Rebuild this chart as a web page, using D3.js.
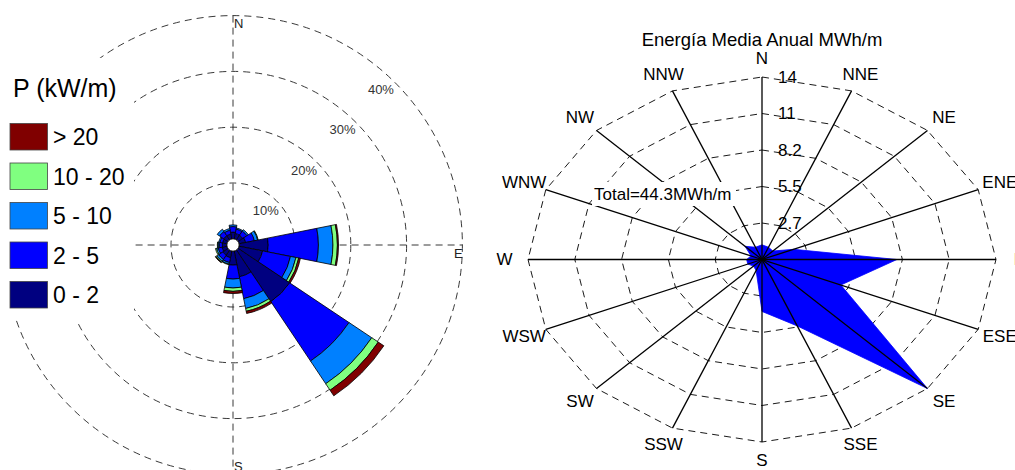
<!DOCTYPE html>
<html><head><meta charset="utf-8">
<script src="https://cdn.jsdelivr.net/npm/d3@7"></script>
<style>
html,body{margin:0;padding:0;background:#fff;}
svg{display:block;font-family:"Liberation Sans",Arial,Helvetica,sans-serif;}
</style></head><body>
<svg id="chart" width="1015" height="470"></svg>
<script>
// ---------- DATA ----------
const directions = ["N","NNE","NE","ENE","E","ESE","SE","SSE","S","SSW","SW","WSW","W","WNW","NW","NNW"];

// Left rose: frequency (%) per speed class, per direction (N clockwise)
const speedClasses = ["0 - 2","2 - 5","5 - 10","10 - 20","> 20"];
const freq0_2   = [1.2,1.0,1.0,1.2,5.2,4.3,11.1,4.7,2.5,1.2,1.1,0.9,0.8,0.8,0.9,0.9];
const freq2_5   = [1.0,0.8,0.9,1.6,9.0,5.1,12.8,4.0,2.5,0.9,0.9,0.7,0.6,0.5,0.9,0.7];
const freq5_10  = [0.3,0.2,0.3,0.6,2.6,1.0,4.9,1.8,1.6,0.3,0.4,0.3,0.2,0.2,0.5,0.3];
const freq10_20 = [0.0,0.0,0.0,0.1,0.8,0.5,1.4,0.5,0.6,0.1,0.2,0.2,0.1,0.0,0.0,0.0];
const freq20    = [0.0,0.0,0.0,0.0,0.2,0.3,1.2,0.4,0.4,0.0,0.1,0.0,0.0,0.0,0.0,0.0];
const classColors = ["#000080","#0000ff","#0080ff","#80ff80","#800000"];
const legendTitle = "P (kW/m)";
const pctTicks = [10,20,30,40];
const pctLabels = ["10%","20%","30%","40%"];
const compassLabels = ["N","E","S"];

// Right radar: mean annual energy (MWh/m) per direction
const energy = [1.1,1.0,0.9,2.0,7.9,5.0,13.7,5.4,3.9,0.9,0.7,0.9,0.9,0.7,1.4,1.0];
const energyMax = 13.7;
const energyTicks = [2.74,5.48,8.22,10.96,13.7];
const energyTickLabels = ["2.7","5.5","8.2","11","14"];
const energyTitle = "Energía Media Anual MWh/m";
const totalLabel = "Total=44.3MWh/m";

// ---------- DRAW ----------
const svg = d3.select("#chart");
const rad = d => d * Math.PI / 180;

// ===== Left wind rose =====
const L = {cx:233, cy:245};
const gL = svg.append("g").attr("transform", `translate(${L.cx},${L.cy})`);
const rScale = d3.scaleLinear().domain([0,40]).range([6.2,229.4]);

// grid circles
gL.selectAll("circle.grid").data(pctTicks).join("circle")
  .attr("class","grid").attr("r", d => rScale(d))
  .attr("fill","none").attr("stroke","#222").attr("stroke-width",0.9)
  .attr("stroke-dasharray","7,5");
// axes
gL.append("line").attr("x1",0).attr("x2",0).attr("y1",-rScale(40)).attr("y2",rScale(40)+5)
  .attr("stroke","#222").attr("stroke-width",0.9).attr("stroke-dasharray","7,5");
gL.append("line").attr("x1",-rScale(40)).attr("x2",rScale(40)).attr("y1",0).attr("y2",0)
  .attr("stroke","#222").attr("stroke-width",0.9).attr("stroke-dasharray","7,5");

// percent labels
gL.selectAll("text.pct").data(pctTicks).join("text")
  .attr("class","pct")
  .attr("x", d => Math.sin(rad(43.5)) * (rScale(d) - 14.5))
  .attr("y", d => -Math.cos(rad(43.5)) * (rScale(d) - 14.5))
  .attr("text-anchor","middle").attr("dominant-baseline","central")
  .attr("font-size",13).attr("fill","#333")
  .text((d,i) => pctLabels[i]);

// compass labels
const compassPos = {N:[1,-221,-1], E:[221,0,8], S:[1,221,0]};
compassLabels.forEach(k => {
  const p = compassPos[k];
  gL.append("text").attr("x",p[0]).attr("y",p[1]+p[2])
    .attr("dominant-baseline","central").attr("font-size",13).attr("fill","#222").text(k);
});

// stacked sectors
const classes = [freq0_2, freq2_5, freq5_10, freq10_20, freq20];
const arc = d3.arc();
const sectorData = [];
directions.forEach((dir,i) => {
  let cum = 0;
  classes.forEach((arr,c) => {
    const v = arr[i];
    if (v > 0) {
      sectorData.push({i, c, inner: cum, outer: cum + v});
    }
    cum += v;
  });
});
gL.selectAll("path.sector").data(sectorData).join("path")
  .attr("class","sector")
  .attr("d", d => arc({
    innerRadius: rScale(d.inner), outerRadius: rScale(d.outer),
    startAngle: rad(d.i*22.5 - 11.25), endAngle: rad(d.i*22.5 + 11.25)}))
  .attr("fill", d => classColors[d.c])
  .attr("stroke","#000").attr("stroke-width",0.8);

// center hole
gL.append("circle").attr("r", rScale(0)).attr("fill","#fff").attr("stroke","#000").attr("stroke-width",1);

// legend
const leg = svg.append("g");
leg.append("rect").attr("x",0).attr("y",58).attr("width",134).attr("height",262).attr("fill","#fff");
leg.append("text").attr("x",13).attr("y",97).attr("font-size",25).attr("fill","#000").text(legendTitle);
const legOrder = [4,3,2,1,0];
legOrder.forEach((c,k) => {
  const y = 123.5 + k*39.5;
  leg.append("rect").attr("x",10).attr("y",y).attr("width",37.5).attr("height",26.5)
    .attr("fill",classColors[c]).attr("stroke","#444").attr("stroke-width",0.8);
  leg.append("text").attr("x",53).attr("y",y+13.5).attr("dominant-baseline","central")
    .attr("font-size",23).attr("fill","#000").text(speedClasses[c]);
});

// ===== Right radar =====
const R = {cx:762, cy:259.5};
const gR = svg.append("g").attr("transform", `translate(${R.cx},${R.cy})`);
const sx = d3.scaleLinear().domain([0,energyMax]).range([0,234]);
const sy = d3.scaleLinear().domain([0,energyMax]).range([0,182.5]);
const pt = (i,v) => [Math.sin(rad(i*22.5))*sx(v), -Math.cos(rad(i*22.5))*sy(v)];
const line = d3.line().curve(d3.curveLinearClosed);

// grid polygons
gR.selectAll("path.ring").data(energyTicks).join("path")
  .attr("class","ring")
  .attr("d", t => line(directions.map((d,i) => pt(i,t))))
  .attr("fill","none").attr("stroke","#000").attr("stroke-width",0.9)
  .attr("stroke-dasharray","7,5");

// energy polygon
gR.append("path").attr("d", line(energy.map((v,i) => pt(i,v))))
  .attr("fill","#0000ff").attr("stroke","#0000ff").attr("stroke-width",0.8);

// spokes
gR.selectAll("line.spoke").data(directions).join("line")
  .attr("class","spoke")
  .attr("x1",0).attr("y1",0)
  .attr("x2",(d,i) => pt(i,energyMax)[0]).attr("y2",(d,i) => pt(i,energyMax)[1])
  .attr("stroke","#000").attr("stroke-width",1.3);

// tick labels
gR.selectAll("text.tick").data(energyTicks).join("text")
  .attr("class","tick").attr("x",16).attr("y", t => -sy(t))
  .attr("dominant-baseline","central").attr("font-size",17).attr("fill","#000")
  .text((t,i) => energyTickLabels[i]);

// direction labels
gR.selectAll("text.dir").data(directions).join("text")
  .attr("class","dir")
  .attr("x",(d,i) => pt(i,energyMax*1.1)[0]).attr("y",(d,i) => pt(i,energyMax*1.1)[1])
  .attr("text-anchor","middle").attr("dominant-baseline","central")
  .attr("font-size",17).attr("fill","#000").text(d => d);

// total label with white background
svg.append("rect").attr("x",592).attr("y",182).attr("width",144).attr("height",24).attr("fill","#fff");
svg.append("text").attr("x",594).attr("y",199.5).attr("font-size",17).attr("fill","#000").text(totalLabel);

// title
svg.append("text").attr("x",R.cx).attr("y",46).attr("text-anchor","middle")
  .attr("font-size",18.5).attr("fill","#000").text(energyTitle);
</script>
</body></html>
